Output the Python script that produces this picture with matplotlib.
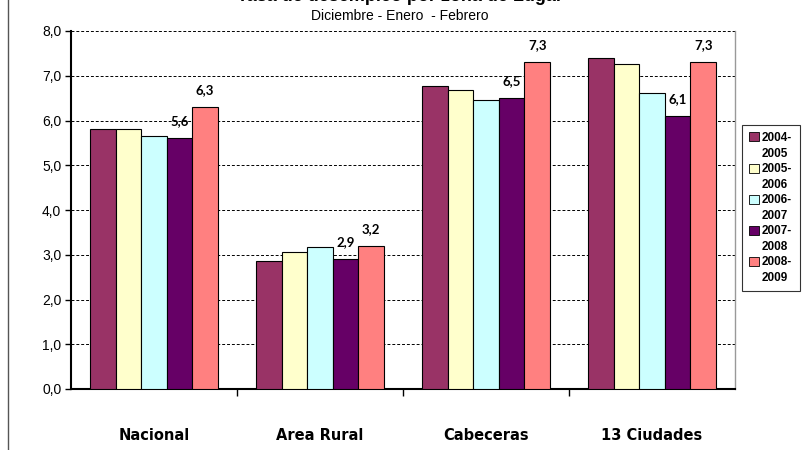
import numpy as np
import matplotlib.pyplot as plt
from matplotlib.patches import Patch
from matplotlib.lines import Line2D
from matplotlib.ticker import FuncFormatter

categories = ['Nacional', 'Area Rural', 'Cabeceras', '13 Ciudades']
periods = ['2004-2005', '2005-2006', '2006-2007', '2007-2008', '2008-2009']
v_2004_2005 = [5.8, 2.87, 6.78, 7.40]
v_2005_2006 = [5.8, 3.06, 6.68, 7.27]
v_2006_2007 = [5.65, 3.18, 6.45, 6.62]
v_2007_2008 = [5.6, 2.9, 6.5, 6.1]
v_2008_2009 = [6.3, 3.2, 7.3, 7.3]
series = [v_2004_2005, v_2005_2006, v_2006_2007, v_2007_2008, v_2008_2009]
labelled = [3, 4]  # only the last two periods carry value labels
colors = ['#993366', '#FFFFCC', '#CCFFFF', '#660066', '#FF8080']

title = 'Tasa de desempleo por zona de Lugar'
subtitle = 'Diciembre - Enero  - Febrero'

fig = plt.figure(figsize=(8.05, 4.5), dpi=100)
ax = fig.add_axes([71 / 805, 1 - 389 / 450, 664 / 805, 358 / 450])

x = np.arange(len(categories))
width = 0.154
for i, vals in enumerate(series):
    pos = x + (i - 2) * width
    bars = ax.bar(pos, vals, width, color=colors[i], edgecolor='black',
                  linewidth=0.8, zorder=3)
    if i in labelled:
        for b, v in zip(bars, vals):
            ax.annotate(f'{v:.1f}'.replace('.', ','),
                        (b.get_x() + b.get_width() / 2, b.get_height()),
                        xytext=(0, 8), textcoords='offset points',
                        ha='center', va='bottom', fontsize=9.5,
                        fontweight='bold', family='Lato', zorder=4)

ax.set_xlim(-0.5, len(categories) - 0.5)
ax.set_ylim(0, 8)
ax.set_yticks(np.arange(0, 8.1, 1))
ax.yaxis.set_major_formatter(FuncFormatter(lambda v, p: f'{v:.1f}'.replace('.', ',')))
ax.tick_params(axis='y', labelsize=10, length=4, width=1, pad=3)
ax.set_xticks(x)
ax.set_xticklabels(categories, fontsize=10.5, fontweight='bold',
                   family=['Liberation Sans Narrow', 'DejaVu Sans'])
ax.tick_params(axis='x', length=0, pad=28)
ax.set_xticks(np.arange(0.5, len(categories) - 0.5, 1), minor=True)
ax.tick_params(axis='x', which='minor', length=5, width=1, direction='out')
for lab in ax.get_yticklabels():
    lab.set_family('Liberation Sans')

ax.grid(axis='y', linestyle=(0, (3, 2)), color='black', linewidth=0.7, zorder=0)
ax.spines['left'].set_linewidth(1.5)
ax.spines['bottom'].set_linewidth(1.5)
ax.spines['top'].set_visible(False)
ax.spines['right'].set_color('#999999')
ax.spines['right'].set_linewidth(1)

# the main title sits mostly above the picture's top edge, as in the source
fig.text(0.497, 1 - 1 / 450, title, ha='center', va='baseline',
         fontsize=13, fontweight='bold', family='Liberation Sans')
fig.text(0.497, 1 - 16 / 450, subtitle, ha='center', va='center',
         fontsize=10, family='Liberation Sans')

# legend: each period split over two lines, handle next to the first line
handles, labels = [], []
for c, p in zip(colors, periods):
    a, b = p.split('-')
    handles.append(Patch(facecolor=c, edgecolor='black', linewidth=0.6))
    labels.append(a + '-')
    handles.append(Patch(facecolor='none', edgecolor='none'))
    labels.append(b)
leg = fig.legend(handles, labels, loc='upper left',
                 bbox_to_anchor=(742 / 805, 1 - 125 / 450),
                 prop={'family': 'Liberation Sans', 'weight': 'bold', 'size': 8.5},
                 frameon=True, fancybox=False, edgecolor='black',
                 handlelength=0.8, handleheight=0.8, handletextpad=0.3,
                 labelspacing=0.3, borderpad=0.6, borderaxespad=0)
leg.get_frame().set_linewidth(0.8)

fig.add_artist(Line2D([8 / 805, 8 / 805], [0, 1], color='#555555', linewidth=1))

fig.savefig('out.png', dpi=100)
